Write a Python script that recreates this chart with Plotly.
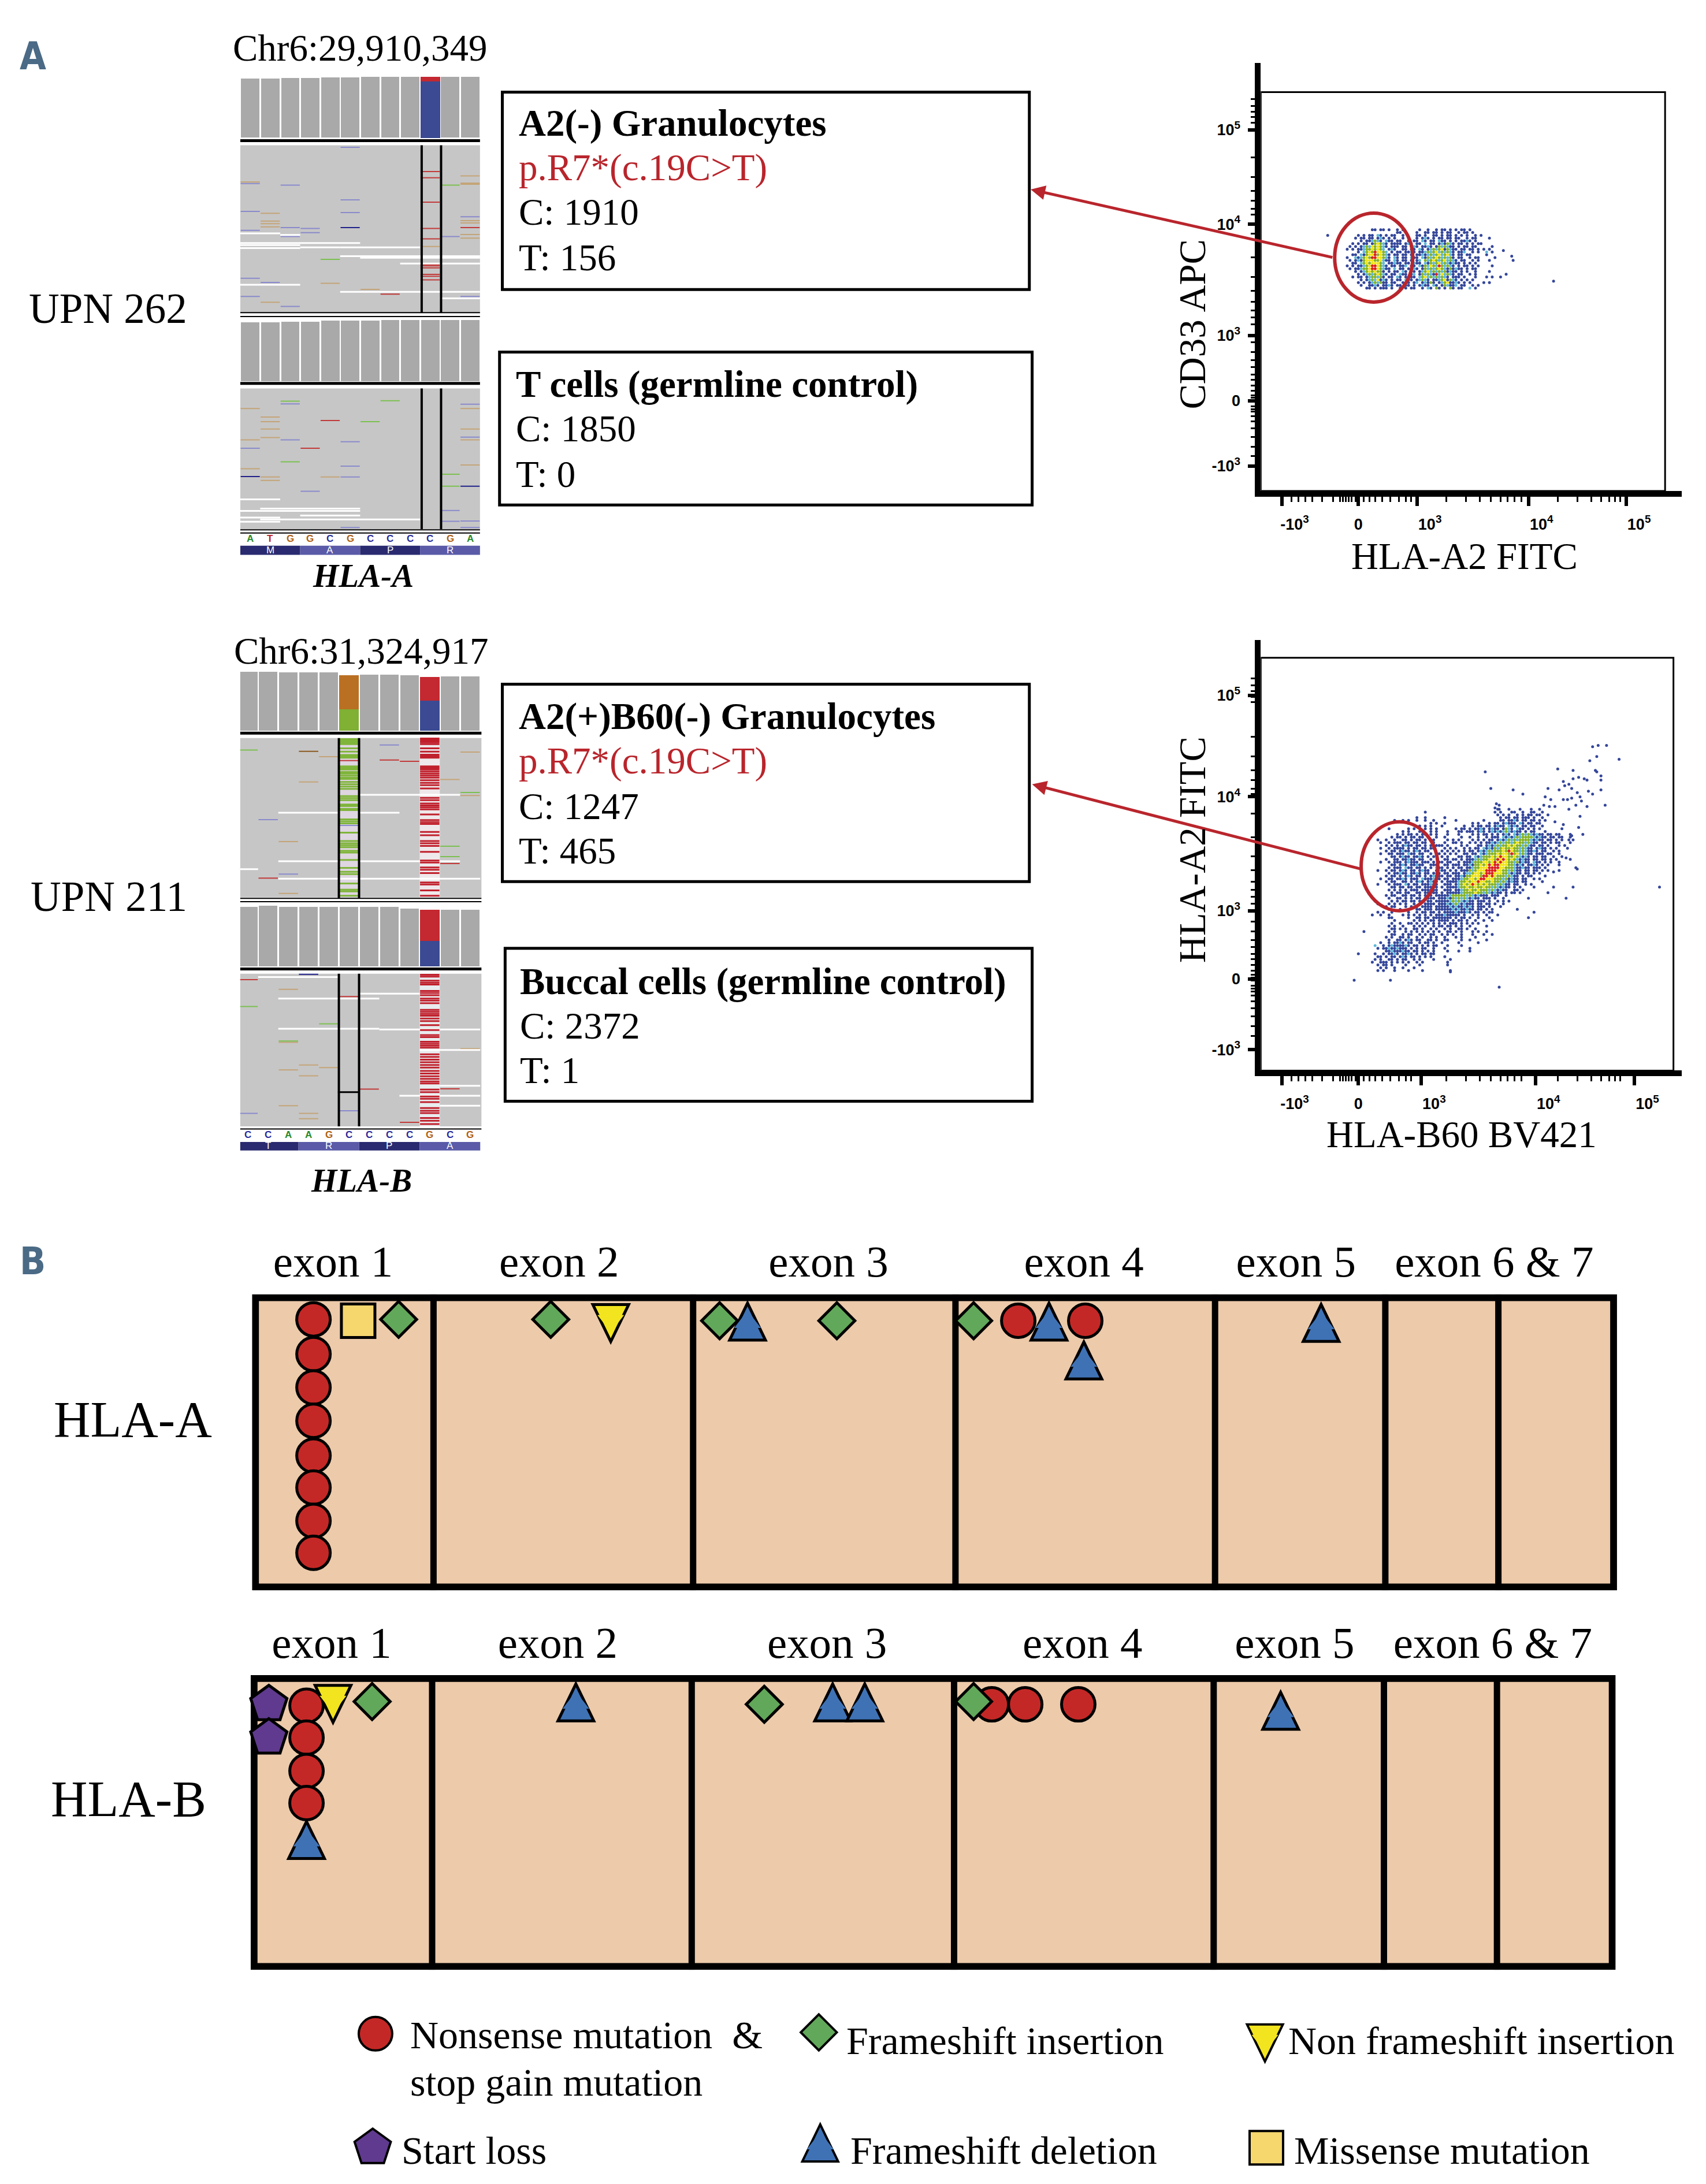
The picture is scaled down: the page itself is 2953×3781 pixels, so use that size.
import plotly.graph_objects as go

W, H = 2953, 3781
K = W / 1220.0
SERIF = "Liberation Serif"
SANS = "Liberation Sans"

# ---------- panel A text ----------
SITE_LABELS = ["Chr6:29,910,349", "Chr6:31,324,917"]
PATIENTS = ["UPN 262", "UPN 211"]
GENES = ["HLA-A", "HLA-B"]
BOX_1 = ["A2(-) Granulocytes", "p.R7*(c.19C>T)", "C: 1910", "T: 156"]
BOX_2 = ["T cells (germline control)", "C: 1850", "T: 0"]
BOX_3 = ["A2(+)B60(-) Granulocytes", "p.R7*(c.19C>T)", "C: 1247", "T: 465"]
BOX_4 = ["Buccal cells (germline control)", "C: 2372", "T: 1"]

# ---------- IGV tracks: (base column, read row) ----------
SEQ_A = list("ATGGCGCCCCGA")
SEQ_B = list("CCAAGCCCCGCG")
AA_A = ["M", "A", "P", "R"]
AA_B = ["T", "R", "P", "A"]
COV_A1_TOP = [200, 200, 198, 198, 196, 196, 194, 194, 194, 207, 194, 194]
COV_A2_TOP = [830, 830, 828, 828, 826, 826, 826, 824, 824, 824, 824, 824]
COV_B1_TOP = [65, 65, 67, 67, 67, 76, 73, 73, 76, 152, 79, 79]
COV_B2_TOP = [773, 770, 773, 773, 773, 773, 773, 773, 778, 877, 782, 782]

A_BLUE = [(0, 471), (0, 543), (0, 592), (2, 475), (2, 585), (2, 608), (3, 587), (3, 598), (5, 377), (5, 513), (5, 546),
          (0, 716), (0, 763), (1, 727), (2, 789), (10, 608), (11, 557), (11, 763),
          (2, 1041), (0, 1156), (2, 1134), (3, 1267), (5, 1139), (5, 1202), (5, 1230), (10, 1317), (10, 1345),
          (11, 1042), (11, 1127), (11, 1344), (11, 1361), (5, 1361)]
A_NAVY = [(5, 585), (0, 1229), (11, 1254)]
A_TAN = [(0, 467), (1, 548), (1, 568), (1, 575), (1, 583), (4, 729), (6, 745), (1, 778), (11, 451), (11, 470), (11, 473),
         (11, 567), (11, 573), (11, 603), (11, 612), (9, 634),
         (0, 1053), (0, 1134), (0, 1209), (1, 1075), (1, 1087), (1, 1106), (1, 1128), (1, 1230), (1, 1239), (4, 1230),
         (11, 1053), (11, 1106), (11, 1134), (11, 1199)]
A_GREEN = [(4, 667), (10, 475), (2, 1034), (6, 1087), (7, 1033), (2, 1191), (10, 1223), (10, 1254)]
A_RED = [(7, 757), (11, 585), (9, 440), (9, 456), (9, 519), (9, 587), (9, 614), (9, 681), (9, 684), (9, 689), (9, 706),
         (9, 711), (9, 720), (4, 1084), (3, 1156)]
A_WHITE = [(0, 2, 600), (2, 3, 604), (0, 6, 625), (0, 3, 630), (0, 3, 638), (3, 5, 636), (5, 9, 636), (5, 12, 659),
           (6, 12, 663), (8, 12, 678), (0, 3, 733), (5, 12, 751), (10, 12, 768),
           (0, 2, 1288), (1, 6, 1312), (0, 6, 1318), (3, 6, 1330), (0, 2, 1335), (1, 9, 1340), (0, 2, 1346)]

B_BLUE = [(7, 286), (1, 511), (2, 675), (5, 528), (0, 1396), (5, 1388)]
B_NAVY = [(3, 977)]
B_TAN = [(4, 321), (3, 397), (10, 390), (11, 438), (2, 577), (2, 733), (11, 307),
         (2, 1022), (2, 1182), (2, 1265), (2, 1373), (3, 1250), (3, 1283), (3, 1396), (3, 1412), (4, 1258), (11, 1201)]
B_BROWN = [(3, 305)]
B_GREEN = [(0, 301), (11, 429), (10, 591), (10, 622), (0, 1074), (4, 1126), (2, 1178)]
B_RED = [(7, 331), (8, 335), (1, 687), (10, 643), (5, 333), (0, 993), (5, 1044), (6, 1323), (8, 1423), (10, 1322)]
B_WHITE = [(2, 5, 490), (6, 8, 490), (0, 1, 660), (2, 5, 636), (6, 11, 636), (2, 12, 689), (6, 11, 436),
           (1, 5, 985), (2, 7, 1050), (6, 9, 1035), (2, 7, 1141), (7, 12, 1143), (9, 12, 1205), (10, 12, 1313),
           (8, 12, 1343), (10, 12, 1373)]
B_COL5_GREEN = [268, 272, 276, 280, 283, 296, 306, 316, 320, 324, 350, 355, 360, 367, 372, 378, 384, 388, 397, 404, 411,
                418, 440, 446, 452, 465, 470, 478, 482, 510, 516, 522, 550, 575, 582, 588, 594, 605, 610, 632, 656, 668,
                675, 703, 722, 727, 740]
B_COL9_RED_TOP = [266, 270, 274, 278, 283, 296, 306, 315, 320, 324, 350, 355, 360, 366, 372, 378, 384, 392, 400, 407, 417,
                  445, 452, 462, 468, 474, 480, 495, 512, 518, 524, 548, 558, 575, 582, 590, 608, 634, 640, 655, 662, 672,
                  700, 706, 724, 740]
B_COL9_RED_BOTTOM = [978, 984, 996, 1002, 1008, 1027, 1033, 1040, 1050, 1056, 1064, 1084, 1090, 1096, 1102, 1110, 1118,
                     1130, 1145, 1160, 1166, 1180, 1186, 1192, 1198, 1218, 1226, 1234, 1242, 1250, 1258, 1268, 1276, 1284,
                     1292, 1300, 1306, 1324, 1332, 1345, 1352, 1362, 1380, 1388, 1395, 1410, 1418, 1428]

# ---------- flow cytometry, in display channels ----------
NB = "\u00a0" * 6
X_TICK_TEXT = [NB + "-10<sup>3</sup>", "0", NB + "10<sup>3</sup>", NB + "10<sup>4</sup>", NB + "10<sup>5</sup>"]
Y_TICK_TEXT = ["-10<sup>3</sup>", "0", "10<sup>3</sup>", "10<sup>4</sup>", "10<sup>5</sup>"]
F1_XTICKS = [15, 70, 112, 192, 262]
F1_YTICKS = [18, 65, 112, 192, 260]
F2_XTICKS = [15, 70, 115, 197, 268]
F2_YTICKS = [15, 66, 115, 197, 270]
F_XMINOR = [22, 27, 32, 37, 44, 52, 57, 59, 61, 63, 65, 68, 74, 78, 82, 87, 93, 99, 104, 108,
            133, 147, 157, 165, 172, 177, 182, 187, 213, 227, 237, 244, 250, 254, 258]
F_YMINOR = [25, 32, 39, 45, 50, 54, 57, 59, 61, 65, 67, 69, 72, 76, 80, 84, 89, 94, 100, 107,
            120, 125, 130, 136, 144, 154, 168, 185, 199, 203, 209, 216, 226, 240, 265, 269, 273, 277, 282]

# Dot map: b blue, c cyan, g green, y yellow, r red. One cell is 2 channels.
F1_ORIGIN = (60, 188)
F1_MAP = [
    "..... ..... bb.bb .b..b .b... ..b.. b..b. bb.b. b.bb. b.... .....",
    "..... ..... ..... ....b b.... .b..b b.bb. b.bb. .b.bb .b... .....",
    "..... b.b.b b.cb. b.bb. .b... .bb.b ..bb. b.bb. b.b.b ..b.b .....",
    "....b .bb.b b.bcb .b.b. .b.b. .b.bc b.b.b b.bb. bb..b .bb.. ..b..",
    "..... .b.bb cgcb. cbb.b b..b. bb.cb .bb.c bb.b. b.bbc b.b.. .....",
    "...b. b.bb. bgygc b.bbb b.bcb .bb.c .bb.b cbgcb .bb.b .b.bb .....",
    "..b.b .bcgc ygygc b.bbb .bb.b cb.bb cb.bg cgcbb .b.bb .bb.. ...b.",
    ".b.b. bbcgg ygygc .bcb. .bb.b b.cb. bcgcg ybgcb b.bb. bb.b. b.b..",
    "..... b.cgy gryyg c.b.b b.bbc b.bbc gcgyc gcgcb .bbc. .b.b. .c.b.",
    "...bb .cbgy yrgyg cb.bb .bb.b .bbcb cgcgy cgycb .bb.b b.... .b...",
    ".b..c bcgyg rryyg cb.cb .bb.c bb.cb gcgyg cgcgb .bb.. b.bb. .....",
    "..b.b cbgyy yggyc bb.cb .bb.b .bc.g cgygc gycgc b.bb. .b.b. ..b..",
    "...bb .cgyg yyygc .bbcb b.bb. cbb.c bgcgy cgcbc bb.b. b.b.. .....",
    ".b.b. bbcgy rrygc b.bb. bbc.b b.cbg cygcr gcgcb .b.bb .b.b. ...b.",
    "..b.b bcggy rrygc bb.c. bb.bb cb.bg cgcgy gcbgb cbb.b .bb.. .....",
    "....b .bcgy gyggb .b.bb .cb.b b.bcg ycgcg cgbcb b.b.b ..b.. ..b..",
    "..... b.bcg cgygc b.bb. cbb.b c.bgc gcbrc ycgcb .bb.. b.b.. .....",
    "...b. bb.bc ggcgb .bb.c b.b.b b.cgy cgcgc gcb.b bb.b. ..b.. .b.b.",
    "..... .b.bc gcybc b.b.b b.cbb .bcgc b.bbc gybgc b.b.b .b... .....",
    "..... b.b.b cgcgb b.bb. .b.b. bc.bc bgb.b cgybb cb.b. b.... b.b..",
    "..... .b..b bcb.b bcb.b b.bb. b.bcb b.cb. bgcbb c.bb. .b.b. .....",
    "..... ...bb .b.bb b.b.. b.b.b b..b. cb.gb .b.gb .bb.. c.b.. .....",
]
F1_DOTS = [(48, 184), (210, 151), (174, 173), (180, 169), (181, 166), (168, 168), (172, 154), (176, 156)]

F2_ORIGIN = (80, 188)
F2_MAP = [
    "..... ..... ..... ..... ..... ..... ..... ..... ..... b...b ...b. ..b.. b.... .....",
    "..... ..... ..... ....b ..... ..... ..... ..... ....b .b... bb..b ..bb. .b... .....",
    "..... ..... ..... ..... ..... ..... ..... ..... ..... b.b.b ..b.b .bb.b b..b. .....",
    "..... ..... ..... .b..b ..... .b... ..... ..... ..... .b.bb .bb.b bb.b. .b... .....",
    "..... ...b. .b.b. .b..b ..b.. ..... b.... ..... b.... .bb.b bcb.b b.bb. b.b.. .....",
    "..... ..... ...b. ..... .b.b. .b... ..... .b.b. ..b.b b.bcb bb.cb .bb.b b.... .....",
    "..... ..... ..... ..b.b .b... b.... ...b. .b.bb .bb.b cbb.c bcb.b b.bb. .b... .....",
    "..... .b... ...b. b...b .b.b. ..... b.bb. b.bbc b.bcb b.bgc b.cbb .b.b. b.... ...b.",
    "..... ..... .b.b. ..bb. .b.b. ..b.. .bb.b bb.bc b.bcb cbcgc bcbb. b.bb. ..b.. .....",
    "..... ....b .b.bb .b.bb .b.b. ..b.. .b... .b.b. bb.b. b.bcb .cbcg cgcbc bb.bb .bb.. .b...",
    "..... ..b.b b.b.b b.bb. b..b. .b... ..b.. b..b. .b.bb b.cbc bcgcg gggcb cbb.b b.b.. .b...",
    "..b.. b..b. .bb.b .bb.b .bb.. ..b.b .b... .b.b. b.bb. bcbcg cgcgg ggcbc bb.bb .b.b. ..b..",
    "...b. .b.bb b.bb. bb.bb ..b.. .b..b b.b.. b.b.b .bbcb cgcgg cgygg cgcbb .bb.b .b... .b...",
    "..... b.b.b .bcbb .bb.b .b.bb b.b.. ..b.b ...bb .bcbc gcggy gyggc gcbb. bb.b. ..b.b .....",
    "...b. .b.bb bb.b. bb.bb .bb.. .b.b. b..b. b.bb. cbcbg cgygg yggcg cbb.b cbb.b .b... b....",
    "..... b.bb. bcbb. bcb.b b.... b.b.b .b.b. bb.bc bcgcg ggygr yggcg cbbcb .bb.. b.b.. .....",
    "...b. .bb.b bb.cb b.bb. .b..b .b.b. b..bb .bb.c bcggg ygyyg rgycg cbb.b bb.bb ..b.. .....",
    "..... ..bb. bcbb. bbcb. b.b.. b.b.. .bb.b b.cbc gggyg yryyg gygcb cb.bb .bb.. b..b. .....",
    "..... b..bb .bbcb b.bb. .b... .bb.b b.b.b bbcgc ggyyg ryryg ygcbc bb.bb .bb.b .b... .b...",
    "...b. .b.bb b.bcb bb.bb b.b.b b.bb. .b.bb bcggg yygyr yryyg gcgbc bb.cb b.b.b ..b.. .....",
    "..... ..bb. bcb.b bcbb. .bbb. .bb.b bb.bb cbggy gyryr ryyyg gcbcb .bbcb .b.b. ..b.. .....",
    "..... .b.bb b.cbb .bb.b .b.cb b.b.b .bb.b bcggy yyrrr ryygg gcbbc bb.bb b.b.. ..... ...b.",
    "..b.. b.bb. bcb.b b.bcb b..bc bb.b. b.bbb gcgyy yrrrr yyggc gcbb. bb.bb .b.b. ..b.. .....",
    "..... .b.bb cbb.b bcb.b b.bcb .bb.b bb.bc cgyyg yrrry yyggc bcbb. bb.b. b.... ..... .....",
    "..... b.bb. b.bcb .bb.b .bcbb b.bb. bbcbg gyyyg rryry gggcg cbb.b .bb.. ..b.. ..... .....",
    "...b. .bb.b bcb.b bb.cb bbcbb .bb.b bbcgg yygyr ryyyg ggcgb cbb.b b..b. b.... ..... .....",
    "..... b.bb. .bb.b .bcb. bcbb. b.bbb bcggy gyyry yggyg gcgcb cbb.b b.... .b... ..... .....",
    "..b.. .b.bb b.cb. bb.bb bcbb. .bbb. bcgyg yrygy gyggg cgcbb .bb.. b.b.. ..... ..... .....",
    "..... ..bb. bb.bb .bb.b bbcb. b.bbb bcggy ggygg yggcg cbcbb .b.b. ...b. ..... ..... ..b..",
    "..... .b.b. b.b.b bb.bb bbbb. .bbb. bbcgg yggyg ggcgc bcbb. .bb.b ..... ..... ..... .....",
    "..... ..b.b b.bb. .bb.b bbbb. b.bbb bbcgg ggygg cgcbc bb.b. bb.b. ..... ...b. ..... .....",
    "..... b.bb. .bb.b b.b.b bb.bb bbbcg ggggc gcbcb bb.bb b..b. ..... ..... ..... ..... .....",
    "..... .b..b b.b.b .bb.b bbb.b bbcbg cgcgc bcbb. bbb.b ..b.. ..... .b... ..... ..... .....",
    ".c... ..b.b .bb.b b.bb. bb.bb bbbcg cgcbc bb.bb b.b.. b.b.b ..... ..... ..... ..... .....",
    "..b.. .b.b. b.b.. b.b.b bbb.b bbcbc gcbcb bb.bb .bb.b ..b.. ..... ..... ..... ..... .....",
    "..... b.bb. ..b.b .b.bb bb.bb bbbcb cbbcb cb.bb b.b.. .b... ..... ..... ..... ..... .....",
    "..... .b... b.... .bb.b bb.bb bbbbc bcbbc bb.bb .b.b. ..... ..b.. ..... ..... ..... .....",
    "..b.b ..b.. ...b. .b.bb .bb.b .bbbb cbbbc b.bb. b.bb. ..... ..... ..... ..... ..... .....",
    "b..b. .b... .b.b. b.b.b .b.bb bcbbb bb.b. .b.b. .b... b.... ..... ..... ..... ..... .....",
    "..... .bb.. ...b. .bb.b b.bbb bbbb. b.bb. b..b. ..b.. ..... ..... ..... ..... ..... .....",
    "..... ...b. ..... b.b.b .bb.b bbb.b .bb.b ..b.. b..b. ..... ..... ..... ..... ..... .....",
    "..... ..b.. b..bb .b.b. b.b.b .b.bb b.b.b .b.b. ..... ..... ..... ..... ..... ..... .....",
    "..... .b.b. .b... b.b.b ..b.b b.bb. b.b.. b.... .b... ..... ..... ..... ..... ..... .....",
    "..... ..bb. b.b.. bb.b. .b.b. .b.b. .bb.b ..b.. ..... ..... ..... ..... ..... ..... .....",
    "..... .b.b. ..b.b .b.b. b.b.b ..bb. b.b.. .b.b. .b... ..... ..... ..... ..... ..... .....",
    "..... ..bb. .b.bb ..b.b .bb.. b.b.b ..b.. .b... b..b. ..... ..... ..... ..... ..... .....",
    "..... b.b.. bb.b. .b.b. .b.b. .b... b.b.. ..b.. ..... ..... ..... ..... ..... ..... .....",
    "..... .b..b b.bcb .bb.. bb.b. .bb.. ..b.. b.... .b... ..... ..... ..... ..... ..... .....",
    "...b. .b.bb cb.bb ..b.b b.b.. b.... .b... ...b. ..... ..... ..... ..... ..... ..... .....",
    ".c..b .bcbb bbcb. bb.b. b.bb. ..b.. ..b.. ..... ..... ..... ..... ..... ..... ..... .....",
    "..b.b bcbbc bbb.b .b.bb ..b.. .b... ..... b.... ..... ..... ..... ..... ..... ..... .....",
    "..... bbcbb bcbb. bb.b. b.b.. ..b.. .b... b.... ..... ..... ..... ..... ..... ..... .....",
    ".b..b .bbcb .bbcb .b.bb .bb.. ..... ..... ..... ..... ..... ..... ..... ..... ..... .....",
    "..bb. b.bb. bcb.b b.b.b .b... .b... ..... ..... ..... ..... ..... ..... ..... ..... .....",
    ".b.b. .bb.b .bb.. b.b.. ..b.. ...b. ..... ..... ..... ..... ..... ..... ..... ..... .....",
    "b..bb b.b.b .b.b. .b.b. ..... ..b.. ..... ..... ..... ..... ..... ..... ..... ..... .....",
    "..b.b b.b.. ..b.. ..b.. ..... ..b.. ..... ..... ..... ..... ..... ..... ..... ..... .....",
    "...b. b..b. .b... b.... ..... ..... ..... ..... ..... ..... ..... ..... ..... ..... .....",
    "..b.b ...b. ...b. ...b. ..... ...b. ..... ..... ..... ..... ..... ..... ..... ..... .....",
]
F2_DOTS = [(238, 233), (242, 234), (248, 234), (241, 226), (236, 223), (257, 224), (161, 215), (213, 217), (224, 216),
           (240, 216), (241, 215), (244, 212), (244, 209), (228, 211), (232, 210), (234, 209), (224, 210), (217, 208),
           (221, 206), (218, 205), (223, 203), (214, 202), (206, 203), (165, 203), (181, 202), (188, 199), (244, 202),
           (235, 201), (238, 199), (227, 200), (229, 197), (204, 197), (208, 195), (217, 195), (220, 195), (223, 196),
           (230, 194), (247, 191), (234, 190), (226, 191), (203, 191), (207, 190), (211, 190), (221, 188), (229, 183),
           (228, 175), (231, 170), (223, 169), (217, 177), (211, 179), (216, 168), (221, 166), (214, 164), (219, 153),
           (227, 145), (210, 143), (210, 132), (219, 124), (196, 114), (192, 110), (171, 60), (74, 100), (70, 84),
           (67, 65), (93, 65), (136, 71), (286, 132), (169, 192), (171, 191), (168, 189), (171, 188)]

# ---------- panel B: mutations along the gene ----------
EXON_NAMES = ["exon 1", "exon 2", "exon 3", "exon 4", "exon 5", "exon 6 & 7"]
EXON_EDGES = [130, 316, 504, 690, 812, 893]
EXON_CENTERS = [58, 220, 413, 596, 748, 890]
MUT_TYPES = ["Nonsense mutation  &", "Frameshift insertion", "Non frameshift insertion",
             "Start loss", "Frameshift deletion", "Missense mutation"]
A_NONSENSE_X = [44, 44, 44, 44, 44, 44, 44, 44, 549, 597]
A_NONSENSE_R = [18, 43, 67, 91, 116, 139, 163, 186, 19, 19]
A_FS_INS_X = [105, 214, 335, 419, 517]
A_FS_INS_R = [18, 18, 19, 19, 19]
A_NONFS_X = [257]
A_NONFS_R = [19]
A_FS_DEL_X = [355, 571, 596, 766]
A_FS_DEL_R = [20, 20, 48, 21]
A_MISSENSE_X = [76]
A_MISSENSE_R = [19]
B_NONSENSE_X = [40, 40, 40, 40, 531, 555, 593]
B_NONSENSE_R = [22, 45, 69, 92, 21, 21, 21]
B_START_X = [13, 13]
B_START_R = [21, 45]
B_FS_DEL_X = [40, 233, 417, 440, 738]
B_FS_DEL_R = [119, 20, 20, 20, 26]
B_NONFS_X = [59]
B_NONFS_R = [19]
B_FS_INS_X = [87, 368, 518]
B_FS_INS_R = [19, 21, 19]

RED, GREENM, YEL, YEL2, BLUEM, PURP = "#c42826", "#62a85a", "#f2e41e", "#f5d76e", "#3f72b5", "#5f3a8e"
SYM = {
    "circle": ("circle", RED, 58),
    "diamond": ("diamond", GREENM, 48),
    "down": ("triangle-down", YEL, 40),
    "up": ("triangle-up", BLUEM, 40),
    "square": ("square", YEL2, 58),
    "pent": ("pentagon", PURP, 66),
}
TRI_PATH = {"up": "M -31 -31 L 31 -31 L 0 33 Z", "down": "M -31 28 L 31 28 L 0 -36 Z"}
READ_COL = {"blue": "#8a8acc", "navy": "#20208a", "tan": "#c4a478", "brown": "#8a5a20", "green": "#7cc050", "red": "#c23a3a"}
BASE_COL = {"A": "#2a8a2a", "T": "#c02020", "G": "#b06010", "C": "#2a2a9a"}
DOT_COL = {"b": "#34469a", "c": "#5fb8d8", "g": "#86b32a", "y": "#f0e418", "r": "#dc2020"}

SX, OX, SY, OY = 1.003, 3.0, 1.006, 2.0


def fx(x):
    return ((x - OX) / SX) / 1220.0


def fy(y):
    return 1 - ((y - OY) / SY) / (H / K)


fig = go.Figure()
shapes, annots = [], []


def text(x, y, s, size=65, color="black", family=SERIF, anchor="left", angle=0, bold=False, italic=False):
    if bold:
        s = "<b>" + s + "</b>"
    if italic:
        s = "<i>" + s + "</i>"
    if anchor == "left":
        x -= 2
    annots.append(dict(x=fx(x), y=fy(y), xref="paper", yref="paper", text=s, showarrow=False, xanchor=anchor,
                       yanchor="middle", textangle=angle, font=dict(size=size, color=color, family=family)))


def box(x0, y0, x1, y1):
    shapes.append(dict(type="rect", xref="paper", yref="paper", x0=fx(x0), x1=fx(x1), y0=fy(y0), y1=fy(y1),
                       line=dict(color="black", width=5), fillcolor="white", layer="below"))


def hidden(dom, rng):
    return dict(domain=dom, range=rng, visible=False, fixedrange=True)


# ---------- IGV ----------
def rect(ax, x0, x1, y0, y1, color):
    shapes.append(dict(type="rect", xref="x%s" % ax, yref="y%s" % ax, x0=x0, x1=x1, y0=y0, y1=y1, fillcolor=color,
                       line=dict(width=0), layer="below"))


def hline(ax, x0, x1, y, color="black", w=4):
    shapes.append(dict(type="line", xref="x%s" % ax, yref="y%s" % ax, x0=x0, x1=x1, y0=y, y1=y,
                       line=dict(color=color, width=w)))


def vline(ax, x, y0, y1, w=4):
    shapes.append(dict(type="line", xref="x%s" % ax, yref="y%s" % ax, x0=x, x1=x, y0=y0, y1=y1,
                       line=dict(color="black", width=w)))


def reads(ax, pts, color, w=2):
    xs, ys = [], []
    for c, r in pts:
        xs += [c + 0.02, c + 0.98, None]
        ys += [r, r, None]
    fig.add_trace(go.Scatter(x=xs, y=ys, mode="lines", line=dict(color=color, width=w), xaxis="x%s" % ax,
                             yaxis="y%s" % ax, showlegend=False, hoverinfo="skip"))


def spans(ax, sp, w=3):
    xs, ys = [], []
    for a, b, r in sp:
        xs += [a, b, None]
        ys += [r, r, None]
    fig.add_trace(go.Scatter(x=xs, y=ys, mode="lines", line=dict(color="white", width=w), xaxis="x%s" % ax,
                             yaxis="y%s" % ax, showlegend=False, hoverinfo="skip"))


def cov(ax, tops, bottom):
    fig.add_trace(go.Bar(x=[i + 0.5 for i in range(12)], y=[bottom - t for t in tops], base=tops, width=0.92,
                         marker=dict(color="#a9a9a9", line=dict(width=0)), xaxis="x%s" % ax, yaxis="y%s" % ax,
                         showlegend=False, hoverinfo="skip"))


def seg(ax, col, top, bottom, color):
    fig.add_trace(go.Bar(x=[col + 0.5], y=[bottom - top], base=[top], width=0.98,
                         marker=dict(color=color, line=dict(width=0)), xaxis="x%s" % ax, yaxis="y%s" % ax,
                         showlegend=False, hoverinfo="skip"))


def seq(ax, letters, aas, y_seq, y_aa, y0, y1, size):
    for i in range(4):
        rect(ax, i * 3, (i + 1) * 3, y0, y1, "#2a2a70" if i % 2 == 0 else "#5a5aa8")
    for i, c in enumerate(letters):
        annots.append(dict(x=i + 0.5, y=y_seq, xref="x%s" % ax, yref="y%s" % ax, text="<b>%s</b>" % c, showarrow=False,
                           font=dict(size=size, family=SANS, color=BASE_COL[c])))
    for i, c in enumerate(aas):
        annots.append(dict(x=i * 3 + 1.5, y=y_aa, xref="x%s" % ax, yref="y%s" % ax, text=c, showarrow=False,
                           font=dict(size=size, family=SANS, color="white")))


# block A (axis 1): rows span 195..1432
rect(1, 0, 12, 372, 805, "#c6c6c6")
rect(1, 0, 12, 1001, 1365, "#c6c6c6")
cov(1, COV_A1_TOP, 352)
seg(1, 9, 207, 353, "#3b4a92")
seg(1, 9, 195, 207, "#c42830")
cov(1, COV_A2_TOP, 982)
for name, pts in [("blue", A_BLUE), ("navy", A_NAVY), ("tan", A_TAN), ("green", A_GREEN), ("red", A_RED)]:
    reads(1, pts, READ_COL[name])
spans(1, A_WHITE)
hline(1, 0, 12, 360, w=5)
hline(1, 0, 12, 805, w=2)
hline(1, 0, 12, 815, w=2)
hline(1, 0, 12, 988, w=5)
hline(1, 0, 12, 1367, w=2)
hline(1, 0, 12, 1375, w=2)
for c in (9.08, 10.05):
    vline(1, c, 372, 805)
    vline(1, c, 1001, 1365)
seq(1, SEQ_A, AA_A, 1390, 1420, 1408, 1432, 17)

# block B (axis 2): rows span 65..1510
rect(2, 0, 12.1, 265, 745, "#c6c6c6")
rect(2, 0, 12.1, 975, 1435, "#c6c6c6")
rect(2, 5, 6, 265, 745, "#ded6e0")
rect(2, 9, 10, 265, 745, "#efe8ea")
rect(2, 9, 10, 975, 1435, "#e8ecee")
cov(2, COV_B1_TOP, 242)
seg(2, 5, 76, 178, "#ba7022")
seg(2, 5, 178, 242, "#80b034")
seg(2, 9, 80, 152, "#c42830")
seg(2, 9, 152, 242, "#3b4a92")
cov(2, COV_B2_TOP, 952)
seg(2, 9, 782, 877, "#c42830")
seg(2, 9, 877, 952, "#3b4a92")
for name, pts in [("blue", B_BLUE), ("navy", B_NAVY), ("tan", B_TAN), ("brown", B_BROWN), ("green", B_GREEN), ("red", B_RED)]:
    reads(2, pts, READ_COL[name])
spans(2, B_WHITE)
reads(2, [(5, r) for r in B_COL5_GREEN], "#7fb53a", 3)
reads(2, [(9, r) for r in B_COL9_RED_TOP], "#c0202c", 3)
reads(2, [(9, r) for r in B_COL9_RED_BOTTOM], "#c0202c", 3)
hline(2, 0, 12.1, 250, w=5)
hline(2, 0, 12.1, 748, w=2)
hline(2, 0, 12.1, 758, w=2)
hline(2, 0, 12.1, 961, w=5)
hline(2, 0, 12.1, 1443, w=2)
for c in (5.0, 6.0):
    vline(2, c, 265, 748)
    vline(2, c, 975, 1435)
hline(2, 4.95, 6.0, 1332, w=3)
seq(2, SEQ_B, AA_B, 1461, 1494, 1482, 1508, 17)


# ---------- flow plots ----------
def flow(ax, rows, origin, dots, xright, ytop):
    x0, y0 = origin
    groups = {k: ([], []) for k in DOT_COL}
    for j, row in enumerate(rows):
        for i, ch in enumerate(row.replace(" ", "")):
            if ch in groups:
                groups[ch][0].append(x0 + 2 * i)
                groups[ch][1].append(y0 - 2 * j)
    for d in dots:
        groups["b"][0].append(d[0])
        groups["b"][1].append(d[1])
    for k in "bcgyr":
        fig.add_trace(go.Scatter(x=groups[k][0], y=groups[k][1], mode="markers",
                                 marker=dict(size=5, color=DOT_COL[k], line=dict(width=0)),
                                 xaxis="x%s" % ax, yaxis="y%s" % ax, showlegend=False, hoverinfo="skip"))
    shapes.append(dict(type="rect", xref="x%s" % ax, yref="y%s" % ax, x0=0, x1=xright, y0=0, y1=ytop,
                       line=dict(color="black", width=3), layer="below"))


def flow_axes(xd, yd, xr, yr, xt, yt):
    tickf = dict(size=27, family=SANS, color="black", weight="bold")
    xa = dict(domain=xd, range=xr, tickmode="array", tickvals=xt, ticktext=X_TICK_TEXT, ticks="outside", ticklen=16,
              tickwidth=6, tickcolor="black", tickfont=tickf, showgrid=False, zeroline=False, showline=True,
              linewidth=10, linecolor="black", ticklabelstandoff=8, fixedrange=True, automargin=False,
              minor=dict(tickmode="array", tickvals=F_XMINOR, ticks="outside", ticklen=9, tickwidth=3, tickcolor="black"))
    ya = dict(domain=yd, range=yr, tickmode="array", tickvals=yt, ticktext=Y_TICK_TEXT, ticks="outside", ticklen=12,
              tickwidth=6, tickcolor="black", tickfont=tickf, showgrid=False, zeroline=False, showline=True,
              linewidth=10, linecolor="black", fixedrange=True, ticklabelstandoff=8, automargin=False,
              minor=dict(tickmode="array", tickvals=F_YMINOR, ticks="outside", ticklen=7, tickwidth=3, tickcolor="black"))
    return xa, ya


flow(3, F1_MAP, F1_ORIGIN, F1_DOTS, 290, 287)
flow(4, F2_MAP, F2_ORIGIN, F2_DOTS, 296, 297)
for ax, xe, ye in [(3, 305, 308), (4, 305, 310)]:
    fig.add_trace(go.Scatter(x=[-2], y=[ye], mode="markers", cliponaxis=False,
                             marker=dict(symbol="triangle-up", size=32, color="black"),
                             xaxis="x%s" % ax, yaxis="y%s" % ax, showlegend=False, hoverinfo="skip"))
    fig.add_trace(go.Scatter(x=[xe], y=[-1], mode="markers", cliponaxis=False,
                             marker=dict(symbol="triangle-right", size=32, color="black"),
                             xaxis="x%s" % ax, yaxis="y%s" % ax, showlegend=False, hoverinfo="skip"))

# gates (channels)
shapes.append(dict(type="circle", xref="x3", yref="y3", x0=53, x1=109, y0=136, y1=200,
                   line=dict(color="#b9252c", width=6)))
shapes.append(dict(type="circle", xref="x4", yref="y4", x0=72, x1=127, y0=115, y1=179,
                   line=dict(color="#b9252c", width=6)))
for x0, y0, x1, y1 in [(956, 184, 739, 135), (976, 624, 740, 563)]:
    annots.append(dict(x=fx(x1), y=fy(y1), ax=(x0 - x1) * K / SX, ay=(y0 - y1) * K / SY, xref="paper", yref="paper",
                       axref="pixel", ayref="pixel",
                       text="", showarrow=True, arrowhead=2, arrowsize=1.0, arrowwidth=5, arrowcolor="#b9252c"))


# ---------- gene maps ----------
def tri(ax, key, xs, ys, col, w=5):
    for x, y in zip(xs, ys):
        shapes.append(dict(type="path", xref="x%s" % ax, yref="y%s" % ax, xsizemode="pixel", ysizemode="pixel",
                           xanchor=x, yanchor=y, path=TRI_PATH[key], fillcolor=col,
                           line=dict(color="black", width=w), layer="between"))


def gene(ax, series, rows):
    for key, xs, rs in series:
        sym, col, size = SYM[key]
        line = dict(width=0) if key in TRI_PATH else dict(color="black", width=5)
        fig.add_trace(go.Scatter(x=xs, y=rs, mode="markers", name=key, cliponaxis=False,
                                 marker=dict(symbol=sym, color=col, size=size, line=line),
                                 xaxis="x%s" % ax, yaxis="y%s" % ax, showlegend=False, hoverinfo="skip"))
        if key in TRI_PATH:
            tri(ax, key, xs, rs, col)
    shapes.append(dict(type="rect", xref="x%s" % ax, yref="y%s" % ax, x0=2.4, x1=975.6, y0=2.4, y1=rows - 2.4,
                       fillcolor="#eccaaa", line=dict(color="black", width=12), layer="below"))
    for e in EXON_EDGES:
        shapes.append(dict(type="line", xref="x%s" % ax, yref="y%s" % ax, x0=e, x1=e, y0=0, y1=rows,
                           line=dict(color="black", width=11), layer="below"))


gene(5, [("circle", A_NONSENSE_X, A_NONSENSE_R), ("square", A_MISSENSE_X, A_MISSENSE_R), ("diamond", A_FS_INS_X, A_FS_INS_R),
         ("down", A_NONFS_X, A_NONFS_R), ("up", A_FS_DEL_X, A_FS_DEL_R)], 213)
gene(6, [("pent", B_START_X, B_START_R), ("circle", B_NONSENSE_X, B_NONSENSE_R), ("down", B_NONFS_X, B_NONFS_R),
         ("up", B_FS_DEL_X, B_FS_DEL_R), ("diamond", B_FS_INS_X, B_FS_INS_R)], 212)

# legend key (axis 7, page-wide)
for key, x, y in [("circle", 269, 1462), ("diamond", 587, 1461), ("down", 907, 1467),
                  ("pent", 267, 1544), ("up", 588, 1541), ("square", 908, 1544)]:
    sym, col, size = SYM[key]
    line = dict(width=0) if key in TRI_PATH else dict(color="black", width=4)
    fig.add_trace(go.Scatter(x=[x], y=[y], mode="markers",
                             marker=dict(symbol=sym, color=col, size=size, line=line),
                             xaxis="x7", yaxis="y7", showlegend=False, hoverinfo="skip"))
    if key in TRI_PATH:
        tri(7, key, [x], [y], col, 4)

# ---------- texts ----------
LETTER_FONT = "Liberation Sans Narrow, DejaVu Sans Condensed, DejaVu Sans"
text(15, 39, "A", size=66, color="#4a6a85", family=LETTER_FONT, bold=True)
text(15, 906, "B", size=66, color="#4a6a85", family=LETTER_FONT, bold=True)
text(258, 33, SITE_LABELS[0], anchor="center", size=65)
text(259, 467, SITE_LABELS[1], anchor="center", size=65)
text(77, 221, PATIENTS[0], anchor="center", size=73)
text(78, 644, PATIENTS[1], anchor="center", size=73)
text(260, 413, GENES[0], anchor="center", size=57, bold=True, italic=True)
text(259, 848, GENES[1], anchor="center", size=57, bold=True, italic=True)

box(360, 65, 738, 207)
box(358, 252, 740, 362)
box(360, 491, 738, 633)
box(362, 681, 740, 791)
for lines, x, ys in [(BOX_1, 373, [87, 119, 151, 184]), (BOX_2, 371, [275, 307, 340]),
                     (BOX_3, 373, [514, 546, 579, 611]), (BOX_4, 374, [705, 737, 769])]:
    for i, (s, y) in enumerate(zip(lines, ys)):
        c = "#b9252c" if s.startswith("p.") else "black"
        text(x, y, s, bold=(i == 0), color=c)

text(855, 232, "CD33 APC", angle=-90, anchor="center")
text(855, 610, "HLA-A2 FITC", angle=-90, anchor="center")
text(1050, 399, "HLA-A2 FITC", anchor="center")
text(1048, 815, "HLA-B60 BV421", anchor="center")

text(95, 1020, GENES[0], size=88, anchor="center")
text(92, 1293, GENES[1], size=88, anchor="center")
text(295, 1463, MUT_TYPES[0], size=68)
text(295, 1497, "stop gain mutation", size=68)
text(608, 1467, MUT_TYPES[1], size=68)
text(925, 1467, MUT_TYPES[2], size=68)
text(289, 1546, MUT_TYPES[3], size=68)
text(611, 1546, MUT_TYPES[4], size=68)
text(929, 1546, MUT_TYPES[5], size=68)

# ---------- layout ----------
THUMB_H = H / K
xa3, ya3 = flow_axes([fx(904), fx(1206)], [fy(352), fy(44)], [0, 302], [0, 308], F1_XTICKS, F1_YTICKS)
xa4, ya4 = flow_axes([fx(904), fx(1206)], [fy(769), fy(459)], [0, 302], [0, 310], F2_XTICKS, F2_YTICKS)


def exon_axis(dom):
    return dict(domain=dom, range=[0, 978], side="top", tickmode="array", tickvals=EXON_CENTERS, ticktext=EXON_NAMES,
                ticks="", showgrid=False, zeroline=False, showline=False, fixedrange=True, automargin=False,
                tickfont=dict(size=77, family=SERIF, color="black"), ticklabelstandoff=14)


fig.update_layout(
    width=W, height=H, margin=dict(l=0, r=0, t=0, b=0, autoexpand=False), autosize=False,
    paper_bgcolor="white", plot_bgcolor="rgba(0,0,0,0)", barmode="overlay", bargap=0,
    shapes=shapes, annotations=annots, showlegend=False,
    xaxis=hidden([fx(172), fx(344)], [0, 12]), yaxis=hidden([fy(398), fy(54)], [1432, 195]),
    xaxis2=hidden([fx(172), fx(345)], [0.115, 12.06]), yaxis2=hidden([fy(827), fy(482)], [1510, 65]),
    xaxis3=xa3, yaxis3=ya3, xaxis4=xa4, yaxis4=ya4,
    xaxis5=exon_axis([fx(180.5), fx(1159.5)]), yaxis5=hidden([fy(1143), fy(930)], [213, 0]),
    xaxis6=exon_axis([fx(179.5), fx(1158.5)]), yaxis6=hidden([fy(1416), fy(1204)], [212, 0]),
    xaxis7=hidden([0, 1], [OX, OX + 1220 * SX]), yaxis7=hidden([0, 1], [OY + THUMB_H * SY, OY]),
)
fig.layout.xaxis.anchor = "y"
fig.layout.yaxis.anchor = "x"
fig.layout.xaxis2.anchor = "y2"
fig.layout.yaxis2.anchor = "x2"
fig.layout.xaxis3.anchor = "y3"
fig.layout.yaxis3.anchor = "x3"
fig.layout.xaxis4.anchor = "y4"
fig.layout.yaxis4.anchor = "x4"
fig.layout.xaxis5.anchor = "y5"
fig.layout.yaxis5.anchor = "x5"
fig.layout.xaxis6.anchor = "y6"
fig.layout.yaxis6.anchor = "x6"
fig.layout.xaxis7.anchor = "y7"
fig.layout.yaxis7.anchor = "x7"
fig.write_html("out.html", config={"displayModeBar": False})
